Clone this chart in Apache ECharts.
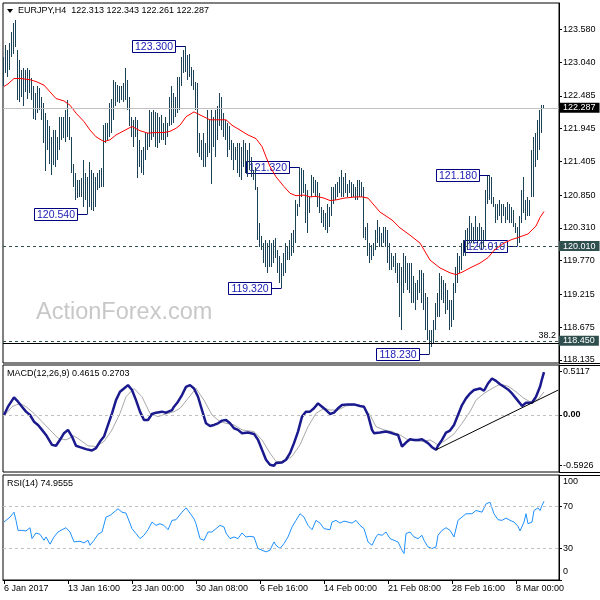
<!DOCTYPE html>
<html><head><meta charset="utf-8">
<script src="https://cdn.jsdelivr.net/npm/echarts@6/dist/echarts.min.js"></script>
<style>html,body{margin:0;padding:0;background:#fff}#c{width:600px;height:600px}</style>
</head><body><div id="c"></div>
<script>
const FONT = 'Liberation Sans';
const BAR_COLOR = '#1c4257';

// ---- data ----
const symbolName = 'EURJPY,H4';
const lastOHLC = [122.313, 122.343, 122.261, 122.287];
const xTickLabels = ['6 Jan 2017','13 Jan 16:00','23 Jan 00:00','30 Jan 08:00','6 Feb 16:00','14 Feb 00:00','21 Feb 08:00','28 Feb 16:00','8 Mar 00:00'];
const xTickStep = 32;
const axisSlots = 278;
const mainTicks = [123.580,123.040,122.485,121.945,121.405,120.850,120.310,119.770,119.215,118.675,118.135];
const macdTicks = [0.5117, 0, -0.5926];
const rsiTicks = [100, 70, 30, 0];
const supportLevels = [120.010, 118.450];
const fibLevel = 118.450, fibText = '38.2';
const baseLine = 118.41;

const highs = [
123.13,123.32,123.24,123.35,123.54,123.68,123.73,123.24,123.08,122.91,
122.94,122.91,122.94,122.91,122.77,122.64,122.53,122.64,122.61,122.47,
122.36,122.20,122.09,121.98,121.81,121.92,121.92,121.81,122.14,122.14,
122.14,122.25,122.42,122.14,121.81,121.37,121.21,121.10,121.10,121.13,
121.43,121.21,121.15,121.40,121.26,121.21,121.15,121.21,121.26,121.29,
122.00,122.03,122.03,122.36,122.44,122.75,122.72,122.66,122.64,122.64,
122.69,122.94,122.75,122.47,122.14,122.09,122.14,122.09,121.76,121.59,
121.65,121.87,121.87,122.25,122.22,122.25,122.22,122.20,122.14,122.17,
122.03,122.14,122.03,122.47,122.64,122.53,122.47,122.80,122.80,123.13,
123.24,123.30,123.16,123.18,122.96,122.91,122.72,122.69,121.87,121.76,
121.87,121.70,122.25,122.09,122.25,122.14,122.25,122.31,122.53,122.47,
122.20,122.09,122.03,121.98,121.76,121.70,121.65,121.70,121.70,121.65,
121.76,121.70,121.59,121.70,121.48,121.26,121.32,120.99,120.39,120.17,
120.06,120.11,120.06,120.11,120.06,120.11,120.14,119.95,119.84,119.73,
119.89,120.06,120.00,120.11,120.22,120.28,120.77,120.71,121.32,121.29,
121.26,121.04,120.93,120.82,121.18,121.15,121.10,121.07,120.88,120.66,
120.61,120.55,120.71,120.66,120.99,120.99,121.04,121.07,121.15,121.27,
121.15,121.21,121.04,121.10,121.07,121.04,120.99,121.10,121.10,121.07,
120.99,120.33,120.39,120.06,120.03,120.06,120.28,120.44,120.33,120.22,
120.33,120.33,120.28,120.06,119.89,119.84,119.89,119.73,119.73,119.67,
119.89,119.84,119.73,119.73,119.73,119.51,119.40,119.45,119.62,119.62,
119.56,119.23,119.18,118.63,118.63,118.79,119.07,119.23,119.56,119.51,
119.45,119.40,119.29,119.12,119.12,119.40,119.67,119.89,119.84,120.06,
120.11,120.28,120.30,120.50,120.39,120.33,120.50,120.33,120.39,120.33,
120.28,120.93,121.16,121.18,121.15,120.82,120.71,120.71,120.77,120.71,
120.71,120.66,120.74,120.71,120.66,120.61,120.39,120.33,120.50,120.93,
121.15,120.77,120.82,120.77,121.59,121.81,121.87,122.09,122.25,122.33,122.34];

const lows = [
122.64,122.86,122.80,122.91,123.13,123.18,123.29,122.42,122.39,122.47,
122.31,122.55,122.44,122.53,122.42,122.11,122.09,122.20,122.25,122.09,
121.70,121.24,121.59,121.37,121.18,121.35,121.32,121.43,121.59,121.76,
121.79,121.73,121.81,121.76,121.21,120.99,120.77,120.80,120.82,120.82,
120.66,120.77,120.54,120.66,120.61,120.58,120.66,120.93,120.96,120.99,
120.99,121.70,121.76,121.81,121.87,122.09,122.31,122.39,122.36,122.42,
122.39,122.42,122.25,121.98,121.81,121.65,121.81,121.13,121.32,121.21,
121.18,121.43,121.59,121.65,121.76,121.81,121.65,121.62,121.70,121.76,
121.76,121.68,121.81,121.98,122.00,122.03,122.14,122.20,122.25,122.64,
122.86,122.88,122.75,122.80,122.64,122.58,122.25,121.54,121.48,121.43,
121.32,121.32,121.48,121.54,121.04,121.65,121.48,121.76,121.98,121.92,
121.81,121.76,121.48,121.59,121.43,121.26,121.43,121.21,121.15,121.10,
121.32,121.21,121.15,121.26,121.15,121.10,120.93,120.11,120.00,119.95,
119.73,119.67,119.56,119.67,119.67,119.73,119.81,119.56,119.40,119.32,
119.51,119.56,119.78,119.78,119.84,119.89,120.06,120.50,120.66,120.82,
120.88,120.39,120.22,120.55,120.82,120.88,120.82,120.66,120.55,120.39,
120.33,120.28,120.22,120.33,120.50,120.71,120.77,120.82,120.88,120.82,
120.82,120.88,120.82,120.88,120.82,120.82,120.77,120.77,120.82,120.82,
120.14,120.11,119.84,119.73,119.78,119.84,119.95,120.06,120.00,120.00,
120.06,120.00,119.73,119.62,119.62,119.67,119.56,119.40,118.85,118.63,
119.23,119.40,119.29,119.23,119.07,119.07,118.96,119.12,119.23,119.07,
118.96,118.63,118.46,118.23,118.35,118.41,118.63,118.85,118.85,119.12,
119.07,118.90,118.96,118.63,118.68,118.79,119.23,119.40,119.56,119.62,
119.84,119.84,119.95,120.06,120.06,120.06,120.11,120.06,120.11,119.95,
120.00,120.11,120.71,120.77,120.71,120.66,120.39,120.44,120.50,120.39,
120.50,120.39,120.44,120.39,120.39,120.33,120.22,120.01,120.06,120.39,
120.55,120.44,120.50,120.50,120.82,120.82,121.32,121.43,121.59,121.87,122.26];

const maPoints = [[0,122.64],[2,122.68],[5,122.77],[8,122.77],[13,122.75],[16,122.72],[20,122.66],[23,122.55],[26,122.44],[30,122.40],[33,122.33],[36,122.20],[40,122.06],[43,121.92],[46,121.81],[50,121.73],[53,121.76],[56,121.84],[60,121.91],[64,121.98],[68,121.91],[72,121.87],[76,121.88],[80,121.88],[83,121.90],[86,121.95],[88,122.00],[91,122.14],[95,122.22],[98,122.17],[103,122.09],[108,122.09],[111,122.09],[114,122.00],[118,121.92],[122,121.84],[126,121.78],[129,121.65],[131,121.48],[133,121.32],[136,121.15],[140,120.99],[143,120.88],[146,120.84],[150,120.85],[153,120.82],[156,120.83],[160,120.80],[163,120.76],[166,120.77],[170,120.80],[173,120.81],[176,120.82],[179,120.82],[182,120.80],[188,120.57],[194,120.44],[198,120.31],[203,120.19],[208,120.06],[213,119.78],[218,119.65],[223,119.57],[226,119.54],[229,119.58],[233,119.65],[238,119.73],[242,119.82],[245,119.94],[250,120.06],[254,120.12],[257,120.15],[262,120.21],[266,120.34],[268,120.48],[270,120.58]];

const annIdx = [91, 42, 148, 139, 243, 257, 213];
const annVal = [123.300, 120.540, 121.320, 119.320, 121.180, 120.010, 118.230];

const macdName = 'MACD(12,26,9)';
const macdLast = [0.4615, 0.2703];
const macdMain = [[0,0.00],[2,0.097],[5,0.205],[7,0.155],[9,0.097],[11,0.039],[13,0.00],[15,-0.078],[17,-0.116],[19,-0.174],[21,-0.233],[24,-0.349],[26,-0.36],[28,-0.29],[30,-0.213],[32,-0.174],[34,-0.252],[36,-0.36],[38,-0.376],[41,-0.399],[44,-0.415],[46,-0.388],[48,-0.31],[50,-0.252],[52,-0.116],[54,0.019],[56,0.174],[58,0.271],[60,0.31],[62,0.349],[64,0.291],[66,0.174],[68,0.039],[70,-0.058],[72,-0.058],[74,0.012],[76,0.027],[79,0.039],[81,0.027],[84,0.058],[85,0.097],[87,0.155],[89,0.233],[91,0.329],[93,0.349],[95,0.31],[97,0.213],[99,0.058],[101,-0.097],[103,-0.128],[105,-0.116],[107,-0.097],[109,-0.066],[111,-0.058],[113,-0.097],[115,-0.155],[117,-0.174],[119,-0.213],[122,-0.205],[125,-0.221],[127,-0.29],[129,-0.407],[131,-0.523],[133,-0.581],[135,-0.593],[136,-0.562],[139,-0.554],[141,-0.523],[143,-0.446],[145,-0.329],[147,-0.194],[149,-0.019],[151,0.039],[153,0.039],[155,0.078],[157,0.136],[159,0.097],[161,0.058],[163,0.012],[165,0.027],[167,0.078],[169,0.116],[172,0.124],[175,0.124],[178,0.105],[180,0.097],[182,0.00],[184,-0.174],[185,-0.213],[188,-0.205],[191,-0.194],[193,-0.205],[195,-0.221],[197,-0.233],[199,-0.368],[201,-0.322],[203,-0.283],[205,-0.291],[207,-0.291],[209,-0.283],[210,-0.271],[212,-0.329],[214,-0.376],[216,-0.407],[217,-0.36],[219,-0.291],[221,-0.205],[223,-0.182],[225,-0.116],[227,0.00],[229,0.116],[231,0.194],[233,0.252],[235,0.291],[236,0.298],[238,0.31],[240,0.283],[242,0.368],[244,0.426],[246,0.399],[248,0.36],[250,0.329],[252,0.298],[254,0.252],[256,0.194],[258,0.136],[259,0.105],[261,0.143],[264,0.143],[266,0.213],[268,0.329],[269,0.42],[270,0.50]];
const macdSignal = [[0,-0.012],[4,0.097],[8,0.136],[11,0.097],[15,0.019],[19,-0.078],[23,-0.174],[27,-0.271],[31,-0.291],[35,-0.244],[38,-0.291],[42,-0.36],[46,-0.368],[50,-0.31],[54,-0.174],[58,0.019],[61,0.213],[65,0.31],[69,0.213],[73,0.019],[77,-0.019],[81,0.012],[85,0.039],[88,0.078],[92,0.194],[96,0.31],[100,0.174],[104,0.00],[108,-0.078],[111,-0.097],[115,-0.116],[119,-0.174],[125,-0.194],[129,-0.291],[133,-0.446],[136,-0.543],[140,-0.543],[144,-0.484],[148,-0.349],[152,-0.136],[156,0.019],[160,0.078],[163,0.058],[167,0.058],[171,0.105],[175,0.116],[179,0.105],[183,0.00],[186,-0.136],[190,-0.174],[194,-0.194],[198,-0.233],[202,-0.291],[206,-0.302],[210,-0.31],[213,-0.291],[217,-0.349],[221,-0.291],[225,-0.221],[229,-0.097],[233,0.039],[236,0.174],[240,0.252],[244,0.31],[248,0.36],[252,0.337],[256,0.271],[260,0.194],[263,0.155],[267,0.182],[270,0.27]];
const macdTrend = [[216,-0.407],[277,0.29]];

const rsiName = 'RSI(14)';
const rsiLast = 74.9555;
const rsiLevels = [70, 30];
const rsiPoints = [[0,55.2],[1,56.8],[3,59.9],[5,64.6],[6,56.8],[7,47.3],[9,47.3],[10,48.9],[11,46.7],[13,49.8],[14,39.4],[16,44.8],[18,43.5],[20,37.8],[21,41.0],[23,34.1],[25,41.0],[27,45.7],[29,47.9],[31,49.8],[33,45.7],[35,36.3],[36,34.7],[38,36.9],[40,35.3],[42,37.8],[43,33.1],[45,37.8],[47,43.5],[49,45.7],[51,59.9],[53,61.5],[55,64.6],[57,67.8],[59,64.6],[61,63.7],[62,63.7],[64,48.9],[66,44.2],[68,39.4],[70,42.6],[72,47.9],[74,55.2],[76,52.0],[78,53.6],[80,52.0],[82,47.9],[84,56.8],[86,57.4],[87,59.9],[89,64.6],[91,68.7],[93,63.7],[95,58.3],[96,53.6],[98,39.4],[100,37.8],[102,45.7],[104,45.7],[106,48.9],[108,52.0],[110,50.5],[111,44.8],[113,39.4],[115,41.0],[117,39.4],[119,44.8],[121,41.0],[123,41.6],[125,41.0],[127,30.0],[129,28.4],[131,26.8],[133,28.4],[135,36.3],[136,33.1],[138,30.0],[140,34.7],[142,41.0],[144,50.5],[146,56.8],[148,63.1],[150,59.9],[152,52.0],[154,47.9],[156,56.8],[158,54.2],[160,48.9],[161,47.3],[163,47.9],[164,55.2],[166,56.8],[168,54.2],[170,56.1],[172,55.2],[174,54.2],[176,56.8],[178,52.0],[180,48.9],[182,36.3],[184,33.1],[186,41.0],[187,43.5],[189,42.6],[191,45.7],[193,39.4],[195,37.8],[197,36.3],[199,28.4],[200,25.2],[201,44.2],[203,45.7],[205,41.0],[207,39.4],[209,42.6],[210,37.8],[212,31.5],[214,30.0],[216,31.5],[217,42.6],[219,47.3],[221,49.8],[223,47.3],[225,41.0],[227,56.8],[229,59.9],[231,63.1],[234,63.1],[236,66.2],[239,64.6],[241,72.5],[243,74.1],[245,63.1],[247,57.4],[249,56.8],[251,59.0],[253,56.8],[255,55.2],[257,51.1],[258,46.7],[260,55.2],[261,63.1],[262,53.6],[264,55.2],[265,66.2],[267,68.7],[268,66.2],[269,70.9],[270,75.0]];

// ---- build ----
const categories = Array.from({length: axisSlots}, (_, i) => String(i));
const barData = highs.map((h, i) => [i, lows[i], h]);
const annData = annIdx.map((x, k) => [x, annVal[k]]);
const lastClose = lastOHLC[3];

function renderBar(params, api) {
  const i = api.value(0);
  const lo = api.coord([i, api.value(1)]);
  const hi = api.coord([i, api.value(2)]);
  const x = Math.round(lo[0]) - 0.5;
  const y1 = Math.round(lo[1]);
  const y2 = Math.min(Math.round(hi[1]), y1 - 1);
  return {type: 'line', shape: {x1: x, y1: y1, x2: x, y2: y2}, style: {stroke: BAR_COLOR, lineWidth: 1}};
}
function renderAnn(params, api) {
  const k = params.dataIndex;
  const p = api.coord([api.value(0), api.value(1)]);
  const x = Math.round(p[0]) - 0.5;
  const y = Math.round(p[1]) + 0.5;
  const right = x - 10;
  return {type: 'group', children: [
    {type: 'line', shape: {x1: right, y1: y, x2: x, y2: y}, style: {stroke: '#000080', lineWidth: 1}},
    {type: 'rect', shape: {x: right - 43, y: y - 6, width: 43, height: 12}, style: {fill: '#fff', stroke: '#000080', lineWidth: 1}},
    {type: 'text', x: right - 21.5, y: y + 0.5, style: {text: annVal[k].toFixed(3), fill: '#1a1ab4', fontSize: 10.5, fontFamily: FONT, align: 'center', verticalAlign: 'middle'}}
  ]};
}

const tickShow = (idx) => idx % xTickStep === 0 && idx / xTickStep < xTickLabels.length;
const hiddenX = (g) => ({type: 'category', gridIndex: g, data: categories, boundaryGap: true,
  axisLine: {show: false}, axisTick: {show: false}, axisLabel: {show: false}, splitLine: {show: false}});
const xBottom = Object.assign(hiddenX(2), {
  axisLine: {show: true, lineStyle: {color: '#000', width: 1}},
  axisTick: {show: true, interval: tickShow, alignWithLabel: true, length: 4, lineStyle: {color: '#000'}},
  axisLabel: {show: true, interval: tickShow, formatter: (v, idx) => xTickLabels[idx / xTickStep],
    align: 'left', margin: 4, fontSize: 9, fontFamily: FONT, color: '#000'}
});

const lblBase = {fontSize: 9, fontFamily: FONT, color: '#000', margin: 4};
const tagLabel = (bg) => ({show: true, position: 'end', distance: 0, formatter: p => Number(p.value).toFixed(3),
  backgroundColor: bg, color: '#fff', padding: [1, 4, 0, 4], fontSize: 9, fontFamily: FONT, lineHeight: 9});

const option = {
  animation: false,
  textStyle: {fontFamily: FONT},
  grid: [
    {left: 3, top: 3, width: 556, height: 360, show: true, borderColor: '#000', borderWidth: 1},
    {left: 3, top: 365, width: 556, height: 107, show: true, borderColor: '#000', borderWidth: 1},
    {left: 3, top: 475, width: 556, height: 105, show: true, borderColor: '#000', borderWidth: 1}
  ],
  xAxis: [hiddenX(0), hiddenX(1), xBottom],
  yAxis: [
    {type: 'value', gridIndex: 0, position: 'right', min: 118.085, max: 124.013,
     axisLine: {show: true, lineStyle: {color: '#000'}},
     axisTick: {show: true, customValues: mainTicks, length: 3, lineStyle: {color: '#000'}},
     axisLabel: Object.assign({customValues: mainTicks, formatter: v => v.toFixed(3)}, lblBase),
     splitLine: {show: false}},
    {type: 'value', gridIndex: 1, position: 'right', min: -0.666, max: 0.584,
     axisLine: {show: true, lineStyle: {color: '#000'}},
     axisTick: {show: true, customValues: macdTicks, length: 3, lineStyle: {color: '#000'}},
     axisLabel: Object.assign({customValues: macdTicks, formatter: v => v === 0 ? '{z|0.00}' : v.toFixed(4),
       rich: {z: {fontWeight: 'bold', fontSize: 9, fontFamily: FONT}}}, lblBase),
     splitLine: {show: false}},
    {type: 'value', gridIndex: 2, position: 'right', min: 0, max: 100,
     axisLine: {show: true, lineStyle: {color: '#000'}},
     axisTick: {show: true, customValues: rsiTicks, length: 3, lineStyle: {color: '#000'}},
     axisLabel: Object.assign({customValues: rsiTicks,
       formatter: v => v === 100 ? '{t|100}' : (v === 0 ? '{b|0}' : String(v)),
       rich: {t: {padding: [14, 0, 0, 0], fontSize: 9, fontFamily: FONT}, b: {padding: [0, 0, 16, 0], fontSize: 9, fontFamily: FONT}}}, lblBase),
     splitLine: {show: false}}
  ],
  series: [
    {type: 'line', xAxisIndex: 0, yAxisIndex: 0, data: maPoints, symbol: 'none', silent: true, z: 1,
     lineStyle: {opacity: 0},
     markLine: {silent: true, symbol: 'none', animation: false, precision: 3, data: [
       {yAxis: lastClose, lineStyle: {color: '#c0c0c0', type: 'solid', width: 1}, label: tagLabel('#000')},
       {yAxis: supportLevels[0], lineStyle: {color: '#2f4f4f', type: [3, 3], width: 1}, label: tagLabel('#2f4f4f')},
       {yAxis: supportLevels[1], lineStyle: {color: '#2f4f4f', type: [3, 3], width: 1}, label: tagLabel('#2f4f4f')},
       {yAxis: baseLine, lineStyle: {color: '#000', type: 'solid', width: 1}, label: {show: false}}
     ]}},
    {type: 'line', xAxisIndex: 0, yAxisIndex: 0, data: maPoints, symbol: 'none', silent: true, z: 5,
     lineStyle: {width: 0, color: 'rgba(0,0,0,0)'},
     markLine: {silent: true, symbol: 'none', animation: false, precision: 3, data: [
       {yAxis: fibLevel, lineStyle: {width: 0, color: 'rgba(0,0,0,0)'},
        label: {show: true, position: 'insideEndTop', distance: [3, 1], formatter: fibText, color: '#000', fontSize: 9, fontFamily: FONT}}
     ]}},
    {type: 'custom', xAxisIndex: 0, yAxisIndex: 0, data: annData, renderItem: renderAnn, silent: true, z: 2, encode: {x: 0, y: 1}},
    {type: 'custom', xAxisIndex: 0, yAxisIndex: 0, data: barData, renderItem: renderBar, silent: true, z: 3, encode: {x: 0, y: [1, 2]}},
    {type: 'line', xAxisIndex: 0, yAxisIndex: 0, data: maPoints, symbol: 'none', silent: true, z: 4,
     lineStyle: {color: '#ff0000', width: 1}},
    {type: 'line', xAxisIndex: 1, yAxisIndex: 1, data: macdSignal, symbol: 'none', silent: true, z: 3,
     lineStyle: {color: '#a8a8a8', width: 1},
     markLine: {silent: true, symbol: 'none', animation: false, data: [
       {yAxis: 0, lineStyle: {color: '#c0c0c0', type: [3, 3], width: 1}, label: {show: false}},
       [{coord: macdTrend[0], lineStyle: {color: '#000', type: 'solid', width: 1}, label: {show: false}}, {coord: macdTrend[1]}]
     ]}},
    {type: 'line', xAxisIndex: 1, yAxisIndex: 1, data: macdMain, symbol: 'none', silent: true, z: 4,
     lineStyle: {color: '#1a1a8e', width: 2.5}},
    {type: 'line', xAxisIndex: 2, yAxisIndex: 2, data: rsiPoints, symbol: 'none', silent: true, z: 4,
     lineStyle: {color: '#1e90ff', width: 1},
     markLine: {silent: true, symbol: 'none', animation: false, data: rsiLevels.map(v => ({yAxis: v,
       lineStyle: {color: '#c0c0c0', type: [3, 3], width: 1}, label: {show: false}}))}}
  ],
  graphic: [
    {type: 'text', x: 36, y: 312.5, z: 0, style: {text: 'ActionForex.com', fontSize: 23.5, fontFamily: FONT, fill: '#c8c8c8', verticalAlign: 'middle'}},
    {type: 'polygon', z: 100, shape: {points: [[7, 9], [13, 9], [10, 13]]}, style: {fill: '#000'}},
    {type: 'text', x: 18, y: 11, z: 100, style: {text: symbolName + '  ' + lastOHLC.map(v => v.toFixed(3)).join(' '), fontSize: 9, fontFamily: FONT, fill: '#000', verticalAlign: 'middle'}},
    {type: 'text', x: 7, y: 374, z: 100, style: {text: macdName + ' ' + macdLast.map(v => v.toFixed(4)).join(' '), fontSize: 9, fontFamily: FONT, fill: '#000', verticalAlign: 'middle'}},
    {type: 'text', x: 7, y: 484, z: 100, style: {text: rsiName + ' ' + rsiLast.toFixed(4), fontSize: 9, fontFamily: FONT, fill: '#000', verticalAlign: 'middle'}},
    {type: 'line', z: 100, shape: {x1: 559, y1: 363.5, x2: 600, y2: 363.5}, style: {stroke: '#000', lineWidth: 1}},
    {type: 'line', z: 100, shape: {x1: 559, y1: 365.5, x2: 600, y2: 365.5}, style: {stroke: '#000', lineWidth: 1}},
    {type: 'line', z: 100, shape: {x1: 559, y1: 472.5, x2: 600, y2: 472.5}, style: {stroke: '#000', lineWidth: 1}},
    {type: 'line', z: 100, shape: {x1: 559, y1: 475.5, x2: 600, y2: 475.5}, style: {stroke: '#000', lineWidth: 1}}
  ]
};
echarts.init(document.getElementById('c'), null, {renderer: 'canvas'}).setOption(option);
</script>
</body></html>
